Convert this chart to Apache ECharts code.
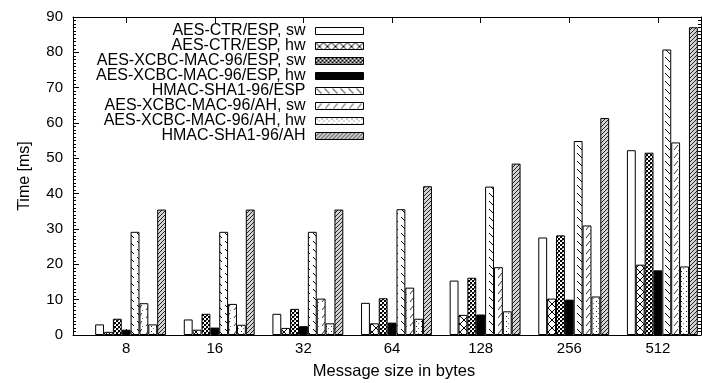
<!DOCTYPE html>
<html>
<head>
<meta charset="utf-8">
<script src="https://cdn.jsdelivr.net/npm/echarts@6/dist/echarts.min.js"></script>
<style>
  html, body { margin: 0; padding: 0; background: #fff; }
  #chart { width: 702px; height: 383px; }
</style>
</head>
<body>
<div id="chart"></div>
<script>
// Message sizes (clusters along the x axis)
const messageSizes = ['8', '16', '32', '64', '128', '256', '512'];

// Series names, in legend order
const seriesNames = [
  'AES-CTR/ESP, sw',
  'AES-CTR/ESP, hw',
  'AES-XCBC-MAC-96/ESP, sw',
  'AES-XCBC-MAC-96/ESP, hw',
  'HMAC-SHA1-96/ESP',
  'AES-XCBC-MAC-96/AH, sw',
  'AES-XCBC-MAC-96/AH, hw',
  'HMAC-SHA1-96/AH'
];

// Processing time in ms per message size
const aesCtrEspSw   = [3.0, 4.4, 6.0, 9.1, 15.4, 27.6, 52.3];
const aesCtrEspHw   = [0.9, 1.5, 2.0, 3.3, 5.7, 10.3, 19.9];
const xcbcEspSw     = [4.6, 6.0, 7.4, 10.4, 16.2, 28.2, 51.6];
const xcbcEspHw     = [1.5, 2.1, 2.5, 3.5, 5.8, 10.0, 18.3];
const hmacSha1Esp   = [29.2, 29.2, 29.2, 35.6, 42.0, 54.9, 80.8];
const xcbcAhSw      = [9.0, 8.8, 10.3, 13.4, 19.2, 31.0, 54.5];
const xcbcAhHw      = [3.0, 2.9, 3.3, 4.6, 6.7, 10.9, 19.4];
const hmacSha1Ah    = [35.5, 35.5, 35.5, 42.1, 48.5, 61.4, 87.1];

const seriesValues = [
  aesCtrEspSw, aesCtrEspHw, xcbcEspSw, xcbcEspHw,
  hmacSha1Esp, xcbcAhSw, xcbcAhHw, hmacSha1Ah
];

// Y axis range (ms)
const yMin = 0, yMax = 90, yStep = 10;

// ---- fill patterns (gnuplot-like hatching) ----
function tile(w, h, bg, draw) {
  const c = document.createElement('canvas');
  c.width = w; c.height = h;
  const g = c.getContext('2d');
  g.fillStyle = bg;
  g.fillRect(0, 0, w, h);
  if (draw) draw(g, w, h);
  return { image: c, repeat: 'repeat' };
}
function diag(g, w, h, dir, color, lw) {
  g.strokeStyle = color;
  g.lineWidth = lw;
  for (const o of [-w, 0, w]) {
    g.beginPath();
    if (dir > 0) { g.moveTo(o, h); g.lineTo(o + w, 0); }
    else { g.moveTo(o, 0); g.lineTo(o + w, h); }
    g.stroke();
  }
}
function seg(g, x1, y1, x2, y2, color, lw) {
  g.strokeStyle = color;
  g.lineWidth = lw;
  g.beginPath();
  g.moveTo(x1, y1);
  g.lineTo(x2, y2);
  g.stroke();
}

const fills = [
  '#ffffff',
  tile(8, 8, '#fff', (g, w, h) => { diag(g, w, h, 1, '#000', 1); diag(g, w, h, -1, '#000', 1); }),
  tile(4, 4, '#fff', (g) => { g.fillStyle = '#000'; g.fillRect(0, 0, 2, 2); g.fillRect(2, 2, 2, 2); g.fillStyle = '#888'; g.fillRect(2, 0, 1, 1); }),
  '#000000',
  tile(8, 8, '#fff', (g) => { seg(g, 1, 1, 6, 6, '#000', 1); }),
  tile(8, 8, '#fff', (g) => { seg(g, 6, 1, 2, 6, '#333', 1); g.fillStyle = '#777'; g.fillRect(6, 6, 1, 1); }),
  tile(5, 5, '#fff', (g) => { g.fillStyle = '#222'; g.fillRect(1, 1, 1, 1); g.fillStyle = '#777'; g.fillRect(3, 3, 1, 1); }),
  tile(4, 4, '#d4d4d4', (g, w, h) => { diag(g, w, h, 1, '#222', 1); })
];

// Clusters sit half a bar to the right of their tick (8 bars + 2 gap units)
const clusterShift = 0.05;

const font = 'Liberation Sans, Arial, Helvetica, sans-serif';
const ink = '#000';
const tickFont = 15;
const textFont = 16;

const tickIdx = messageSizes.map((_, i) => i);

const chart = echarts.init(document.getElementById('chart'), null, { renderer: 'canvas' });

const axisLineStyle = { show: true, onZero: false, lineStyle: { color: ink, width: 1 } };

chart.setOption({
  animation: false,
  backgroundColor: '#fff',
  textStyle: { fontFamily: font, color: ink },
  grid: { left: 73, right: 1, top: 17, bottom: 48, outerBoundsMode: 'none' },
  legend: {
    orient: 'vertical',
    right: 338,
    top: 23,
    padding: 0,
    align: 'right',
    icon: 'rect',
    itemWidth: 48,
    itemHeight: 7,
    itemGap: -1,
    selectedMode: false,
    data: seriesNames,
    itemStyle: { borderColor: ink, borderWidth: 1 },
    textStyle: { fontFamily: font, fontSize: textFont, color: ink, padding: [0, 5, 0, 0] }
  },
  xAxis: [
    {
      type: 'value',
      position: 'bottom',
      min: -0.6,
      max: 6.486,
      axisLine: axisLineStyle,
      axisTick: { show: true, inside: true, length: 6, customValues: tickIdx, lineStyle: { color: ink } },
      axisLabel: {
        show: true,
        customValues: tickIdx,
        formatter: (v) => messageSizes[Math.round(v)],
        fontFamily: font, fontSize: tickFont, color: ink, margin: 6
      },
      splitLine: { show: false },
      name: 'Message size in bytes',
      nameLocation: 'middle',
      nameGap: 28,
      nameTextStyle: { fontFamily: font, fontSize: 16.5, color: ink, padding: [0, 0, 0, 14] }
    },
    {
      type: 'value',
      position: 'top',
      min: -0.6,
      max: 6.486,
      axisLine: axisLineStyle,
      axisTick: { show: true, inside: true, length: 6, customValues: tickIdx, lineStyle: { color: ink } },
      axisLabel: { show: false },
      splitLine: { show: false }
    }
  ],
  yAxis: [
    {
      type: 'value',
      position: 'left',
      min: yMin, max: yMax, interval: yStep,
      axisLine: axisLineStyle,
      axisTick: { show: true, inside: true, length: 6, lineStyle: { color: ink } },
      minorTick: { show: true, splitNumber: 10, length: 3, lineStyle: { color: ink } },
      axisLabel: { fontFamily: font, fontSize: tickFont, color: ink, margin: 10 },
      splitLine: { show: false },
      name: 'Time [ms]',
      nameLocation: 'middle',
      nameRotate: 90,
      nameGap: 40,
      nameTextStyle: { fontFamily: font, fontSize: textFont, color: ink }
    },
    {
      type: 'value',
      position: 'right',
      min: yMin, max: yMax, interval: yStep,
      axisLine: axisLineStyle,
      axisTick: { show: true, inside: true, length: 6, lineStyle: { color: ink } },
      minorTick: { show: true, splitNumber: 10, length: 3, lineStyle: { color: ink } },
      axisLabel: { show: false },
      splitLine: { show: false }
    }
  ],
  series: seriesNames.map((name, k) => ({
    name: name,
    type: 'bar',
    xAxisIndex: 0,
    yAxisIndex: 0,
    barGap: '0%',
    barCategoryGap: '20%',
    data: seriesValues[k].map((v, i) => [i + clusterShift, v]),
    itemStyle: { color: fills[k], borderColor: ink, borderWidth: 1 },
    emphasis: { disabled: true }
  }))
});
</script>
</body>
</html>
